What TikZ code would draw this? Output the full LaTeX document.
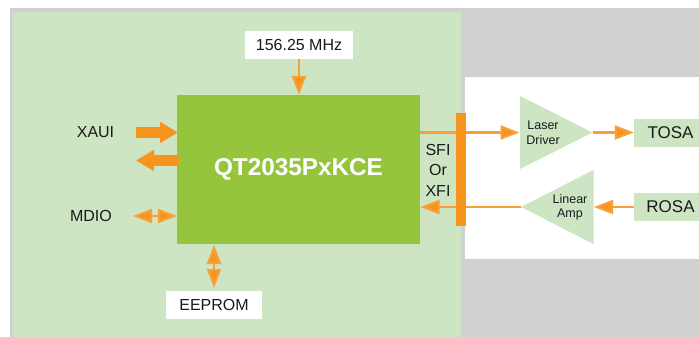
\documentclass[tikz,border=0pt]{standalone}
\usepackage{fontspec}
\setmainfont{Liberation Sans}
\usetikzlibrary{arrows.meta}
\definecolor{pale}{HTML}{CDE5C3}
\definecolor{chip}{HTML}{95C53C}
\definecolor{org}{HTML}{F7941E}
\definecolor{grayb}{HTML}{D1D1D1}
\definecolor{ink}{HTML}{1A1A1A}
\tikzset{
 x=1pt,y=-1pt,
 lab/.style={text=ink,font=\fontsize{16}{18}\selectfont,inner sep=0pt},
 small/.style={text=ink,font=\fontsize{12.5}{15}\selectfont,inner sep=0pt},
 rbox/.style={draw=none,inner sep=0pt,text=ink,font=\fontsize{16}{18}\selectfont,minimum height=28pt},
 obox/.style={rbox,font=\fontsize{17}{19}\selectfont},
 thin link/.style={draw=org!90!white,line width=2.2pt,-{Triangle[length=19pt,width=14pt,fill=org]}},
 thin both/.style={draw=org!90!white,line width=2.2pt,{Triangle[length=19pt,width=14pt,fill=org]}-{Triangle[length=19pt,width=14pt,fill=org]}},
 block link/.style={draw=org,line width=10.5pt,-{Triangle[length=18pt,width=20pt,fill=org]},shorten >=0pt},
}
\begin{document}
\begin{tikzpicture}
\useasboundingbox (0,0) rectangle (699,337);
\fill[white] (0,0) rectangle (699,337);
\fill[grayb] (10,8) rectangle (699,337);
\fill[pale] (13,12) rectangle (461,337);
\fill[white] (465,77) rectangle (699,259);
% nodes
\node[fill=chip,minimum width=243pt,minimum height=149pt,inner sep=0pt,text=white,font=\fontsize{24.3}{26}\bfseries\selectfont] (chipn) at (298.5,169.5) {QT2035PxKCE};
\node[rbox,fill=white,minimum width=108pt] (clk) at (299,45) {156.25 MHz};
\node[rbox,fill=white,minimum width=96pt] (eep) at (214,305) {EEPROM};
\node[obox,fill=pale,minimum width=65pt] (tosa) at (666.5,133) {\hspace*{8pt}TOSA};
\node[obox,fill=pale,minimum width=65pt] (rosa) at (666.5,207) {\hspace*{8pt}ROSA};
\node[lab] (xaui) at (95.5,132.5) {XAUI};
\node[lab] (mdio) at (91,215.5) {MDIO};
\node[lab] (sfi) at (438,149.5) {SFI};
\node[lab] (or) at (438,170) {Or};
\node[lab] (xfi) at (438,190.5) {XFI};
% triangles
\fill[pale] (520,96) -- (592.5,132.5) -- (520,169) -- cycle;
\fill[pale] (593.5,170) -- (521,207) -- (593.5,244) -- cycle;
\node[small] (laser) at (543,125) {Laser};
\node[small] (driver) at (543,140) {Driver};
\node[small] (linear) at (570,199) {Linear};
\node[small] (amp) at (570,214) {Amp};
% coordinates
\coordinate (ldin) at (519.5,132.5);
\coordinate (ldout) at (592.5,132.5);
\coordinate (lain) at (594,207);
\coordinate (laout) at (521,207);
\coordinate (chipo) at (420,132.5);
\coordinate (chipi) at (420.5,207);
\coordinate (xa) at (136,132.5);
\coordinate (xb) at (178,132.5);
\coordinate (xc) at (178.5,160.5);
\coordinate (xd) at (136,160.5);
\coordinate (ma) at (133,216);
\coordinate (mb) at (177,216);
\coordinate (ea) at (214,245);
\coordinate (eb) at (214,288);
% connectors
\draw[thin link] (clk.south) -- (clk.south |- chipn.north);
\draw[block link] (xa) -- (xb);
\draw[block link] (xc) -- (xd);
\draw[thin both] (ma) -- (mb);
\draw[thin both] (ea) -- (eb);
\draw[thin link] (chipo) -- (ldin);
\draw[thin link] (ldout) -- (tosa.west |- ldout);
\draw[thin link] (rosa.west |- lain) -- (lain);
\draw[thin link] (laout) -- (chipi);
\node[fill=org,minimum width=10.5pt,minimum height=113pt,inner sep=0pt] (bar) at (461,169.5) {};
\end{tikzpicture}
\end{document}
